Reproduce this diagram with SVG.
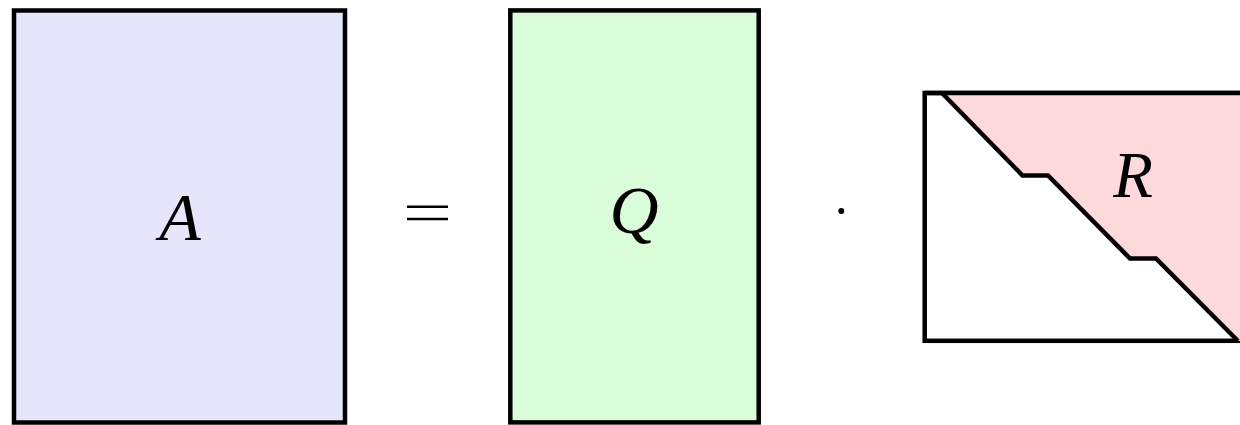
<svg xmlns="http://www.w3.org/2000/svg" width="1240" height="425" viewBox="0 0 1240 425">
  <style>
    .box { stroke: #000; stroke-width: 4.5; stroke-linejoin: miter; }
    .lbl { font-family: "Liberation Serif", "DejaVu Serif", serif; font-style: italic; fill: #000; text-anchor: middle; }
  </style>
  <rect width="1240" height="425" fill="#ffffff"/>
  <g id="nodeA">
    <rect class="box" x="14" y="10.5" width="331" height="412" fill="#e5e5fc"/>
    <text class="lbl" x="180" y="240" font-size="68">A</text>
  </g>
  <g id="equals">
    <line x1="407" y1="206.7" x2="448" y2="206.7" stroke="#000" stroke-width="2.6"/>
    <line x1="407" y1="219" x2="448" y2="219" stroke="#000" stroke-width="2.6"/>
  </g>
  <g id="nodeQ">
    <rect class="box" x="510.3" y="10.4" width="248.4" height="412" fill="#d9fdd9"/>
    <text class="lbl" x="634" y="233" font-size="68">Q</text>
  </g>
  <g id="dot">
    <circle cx="841.3" cy="211" r="3" fill="#000"/>
  </g>
  <g id="nodeR">
    <rect class="box" x="924.7" y="93" width="316" height="247.8" fill="#ffffff"/>
    <polygon points="942,93 1242,93 1242,341 1238,341 1156,258.5 1130,258.5 1048,175.5 1022.5,175.5" fill="#fed9dc"/>
    <line x1="924.7" y1="93" x2="1242" y2="93" stroke="#000" stroke-width="4.5"/>
    <polyline points="942,93 1022.5,175.5 1048,175.5 1130,258.5 1156,258.5 1238,341" fill="none" stroke="#000" stroke-width="4.5" stroke-linejoin="miter"/>
    <text class="lbl" x="1133" y="197" font-size="65">R</text>
  </g>
</svg>
